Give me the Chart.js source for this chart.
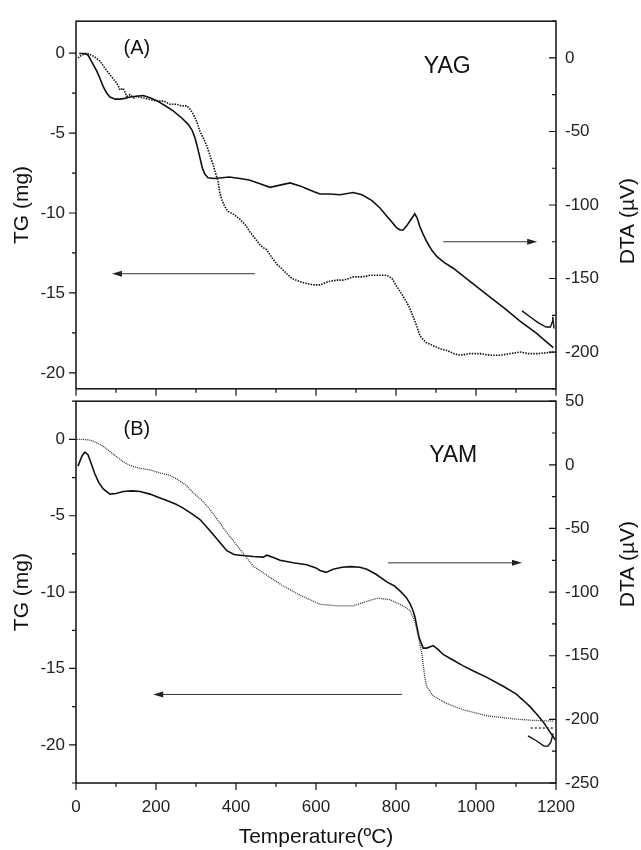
<!DOCTYPE html>
<html>
<head>
<meta charset="utf-8">
<script src="https://cdn.jsdelivr.net/npm/chart.js@4.4.1/dist/chart.umd.min.js"></script>
<style>
  html, body { margin: 0; padding: 0; background: #fff; }
  #wrap { position: relative; width: 641px; height: 850px; }
  #wrap canvas { position: absolute; left: 0; }
  #chartA { top: 0; }
  #chartB { top: 380px; }
</style>
</head>
<body>
<div id="wrap">
  <canvas id="chartA" width="641" height="410"></canvas>
  <canvas id="chartB" width="641" height="470"></canvas>
</div>
<script>
// ================= DATA =================
// (A) YAG - TG, mg (dotted)
const tgA_T = [5, 15, 27, 45, 60, 77, 93, 105, 110, 118, 127, 135, 145, 152, 168, 185, 202, 220, 235, 252, 265, 277, 285, 293, 302, 310, 320, 327, 335, 343, 350, 355, 360, 365, 372, 380, 395, 410, 425, 435, 448, 460, 470, 477, 482, 490, 502, 515, 527, 540, 560, 575, 593, 610, 630, 652, 670, 693, 715, 735, 755, 777, 790, 802, 815, 827, 835, 843, 852, 860, 875, 893, 910, 927, 945, 960, 985, 1010, 1035, 1060, 1085, 1110, 1130, 1152, 1175, 1195];
const tgA = [-0.3, -0.1, 0, -0.2, -0.5, -1.1, -1.6, -2.0, -2.3, -2.2, -2.7, -2.6, -2.8, -2.7, -2.8, -2.9, -3.0, -3.0, -3.2, -3.2, -3.3, -3.3, -3.5, -3.8, -4.3, -4.9, -5.4, -5.8, -6.4, -7.0, -7.6, -8.0, -8.8, -9.2, -9.6, -9.9, -10.1, -10.4, -10.8, -11.2, -11.6, -12.0, -12.2, -12.3, -12.5, -12.8, -13.2, -13.5, -13.8, -14.1, -14.3, -14.4, -14.5, -14.5, -14.3, -14.2, -14.2, -14.0, -14.0, -13.9, -13.9, -13.9, -14.1, -14.6, -15.1, -15.6, -16.0, -16.5, -17.1, -17.7, -18.1, -18.3, -18.5, -18.6, -18.8, -18.9, -18.8, -18.8, -18.9, -18.9, -18.8, -18.7, -18.8, -18.8, -18.75, -18.7];

// (A) YAG - DTA, µV (solid)
const dtaA_T = [8, 20, 30, 40, 52, 60, 68, 77, 85, 98, 110, 122, 135, 150, 168, 185, 202, 220, 243, 265, 280, 290, 297, 303, 310, 316, 322, 330, 345, 365, 383, 410, 433, 460, 485, 510, 535, 560, 577, 595, 610, 635, 660, 693, 715, 740, 760, 775, 785, 800, 810, 818, 827, 837, 847, 853, 860, 868, 877, 890, 902, 920, 943, 985, 1027, 1070, 1110, 1150, 1193];
const dtaA = [3, 3, 2, -3, -9, -14, -19.5, -24, -26.6, -28, -28, -27.5, -26.6, -26, -25.5, -27, -29, -32, -36, -41, -45, -49, -54, -60, -68, -75, -79, -81.5, -82, -81.5, -81, -82, -83, -85.5, -88, -86.5, -85, -87, -89, -91, -92.5, -92.5, -93, -91.5, -93, -97, -102, -107, -110, -115, -117, -117, -114, -110, -106, -109, -115, -120, -125, -131, -135, -139, -143, -152, -161, -170, -179, -187, -197];
// (A) short cooling trace at the end
const dtaA2_T = [1115, 1135, 1155, 1175, 1186, 1190, 1192, 1195];
const dtaA2 = [-172, -176, -180, -183, -183, -180, -176, -184];

// (B) YAM - TG, mg (dotted)
const tgB_T = [2, 20, 35, 50, 68, 85, 102, 120, 135, 160, 185, 210, 235, 252, 275, 293, 315, 335, 355, 377, 395, 410, 443, 477, 518, 560, 610, 652, 693, 727, 755, 785, 818, 835, 847, 855, 865, 872, 877, 893, 927, 968, 1027, 1093, 1143, 1195];
const tgB = [0, 0, -0.05, -0.2, -0.45, -0.8, -1.15, -1.5, -1.7, -1.9, -2.0, -2.2, -2.35, -2.6, -3.0, -3.5, -4.0, -4.6, -5.3, -6.1, -6.7, -7.2, -8.3, -8.9, -9.6, -10.2, -10.8, -10.9, -10.9, -10.6, -10.4, -10.5, -10.9, -11.2, -11.9, -12.8, -14.1, -15.6, -16.2, -16.8, -17.3, -17.7, -18.1, -18.3, -18.4, -18.45];
const tgB2_T = [1137, 1195];
const tgB2 = [-18.9, -18.9];

// (B) YAM - DTA, µV (solid)
const dtaB_T = [5, 15, 22, 30, 38, 47, 57, 68, 85, 100, 118, 140, 160, 185, 202, 227, 250, 268, 290, 310, 330, 352, 365, 377, 395, 410, 443, 468, 477, 495, 510, 543, 577, 600, 610, 625, 643, 665, 685, 710, 727, 750, 777, 795, 810, 825, 835, 842, 847, 852, 858, 868, 877, 893, 905, 918, 940, 968, 1000, 1027, 1068, 1100, 1118, 1135, 1152, 1168, 1185, 1198];
const dtaB = [-1, 7, 10, 8, 1, -7, -14, -19, -23, -22.5, -21, -20.5, -21, -23, -25, -28, -31, -34, -38.5, -43, -50, -58, -63, -67.5, -70.5, -71, -72, -72.5, -71, -73, -75, -77, -78.5, -81, -83, -84.5, -82, -80.5, -80, -80.5, -82, -86, -92, -95, -99, -104, -109, -114, -119, -127, -136, -144, -144, -142, -145, -149, -153, -158, -163, -167, -174, -180, -185, -190, -196, -202, -210, -216];
const dtaB2_T = [1130, 1152, 1170, 1180, 1187, 1193];
const dtaB2 = [-213, -217, -221, -221, -218, -211];

// ================= HELPERS =================
const FONT = "'Liberation Sans', Arial, Helvetica, sans-serif";
const majorStep = { x: 200, tg: 5, dta: 50 };
const pts = (T, V) => T.map((t, i) => ({ x: t, y: V[i] }));
const isMajor = (v, step) => Math.abs(v / step - Math.round(v / step)) < 1e-6;

// frame + inward/outward tick marks (major long, minor short)
const frameTicks = {
  id: 'frameTicks',
  afterDraw(chart) {
    const { ctx, chartArea: a, scales } = chart;
    ctx.save();
    ctx.strokeStyle = '#111';
    ctx.lineWidth = 1.5;
    ctx.strokeRect(a.left, a.top, a.right - a.left, a.bottom - a.top);
    ctx.lineWidth = 1.2;
    ctx.beginPath();
    Object.values(scales).forEach(s => {
      const step = majorStep[s.id];
      s.ticks.forEach(t => {
        const p = s.getPixelForValue(t.value);
        const len = isMajor(t.value, step) ? 7 : 4;
        if (s.id === 'x') { ctx.moveTo(p, a.bottom); ctx.lineTo(p, a.bottom + len); }
        else if (s.id === 'tg') { ctx.moveTo(a.left, p); ctx.lineTo(a.left - len, p); }
        else { ctx.moveTo(a.right, p); ctx.lineTo(a.right - len, p); }
      });
    });
    ctx.stroke();
    ctx.restore();
  }
};

// panel labels, arrows and right-hand axis title
const notes = {
  id: 'notes',
  afterDraw(chart, args, opts) {
    const { ctx, scales } = chart;
    const x = scales.x;
    ctx.save();
    ctx.fillStyle = '#111';
    ctx.textAlign = 'center';
    ctx.textBaseline = 'middle';
    (opts.texts || []).forEach(n => {
      ctx.font = n.size + 'px ' + FONT;
      ctx.fillText(n.text, x.getPixelForValue(n.x), scales[n.axis].getPixelForValue(n.y));
    });
    ctx.strokeStyle = '#333';
    ctx.fillStyle = '#222';
    ctx.lineWidth = 1;
    (opts.arrows || []).forEach(r => {
      const x1 = x.getPixelForValue(r.from), x2 = x.getPixelForValue(r.to);
      const y = scales[r.axis].getPixelForValue(r.y);
      const dir = Math.sign(x2 - x1);
      ctx.beginPath(); ctx.moveTo(x1, y); ctx.lineTo(x2 - dir * 6, y); ctx.stroke();
      ctx.beginPath();
      ctx.moveTo(x2, y); ctx.lineTo(x2 - dir * 10, y - 3); ctx.lineTo(x2 - dir * 10, y + 3);
      ctx.closePath(); ctx.fill();
    });
    if (opts.rightTitle) {
      const yc = scales.dta.getPixelForValue(opts.rightTitle.y);
      ctx.fillStyle = '#111';
      ctx.font = '21px ' + FONT;
      ctx.translate(chart.width - 13, yc);
      ctx.rotate(-Math.PI / 2);
      ctx.fillText('DTA (µV)', 0, 0);
    }
    ctx.restore();
  }
};

function makeChart(id, cfg) {
  const tickFont = { family: FONT, size: 17 };
  return new Chart(document.getElementById(id), {
    type: 'line',
    data: {
      datasets: [
        { data: pts(cfg.tg_T, cfg.tg), yAxisID: 'tg', borderColor: cfg.tgColor, borderWidth: cfg.tgWidth, borderDash: cfg.tgDash, pointRadius: 0 },
        { data: pts(cfg.tg2_T, cfg.tg2), yAxisID: 'tg', borderColor: '#222', borderWidth: 1.3, borderDash: [2, 2], pointRadius: 0 },
        { data: pts(cfg.dta_T, cfg.dta), yAxisID: 'dta', borderColor: '#111', borderWidth: 1.6, pointRadius: 0 },
        { data: pts(cfg.dta2_T, cfg.dta2), yAxisID: 'dta', borderColor: '#111', borderWidth: 1.4, pointRadius: 0 }
      ]
    },
    options: {
      responsive: false,
      animation: false,
      layout: { padding: { top: cfg.padTop, left: 0, right: 0, bottom: 0 } },
      plugins: {
        legend: { display: false },
        tooltip: { enabled: false },
        notes: cfg.notes
      },
      scales: {
        x: {
          type: 'linear', min: 0, max: 1200,
          afterFit: s => { s.height = cfg.xHeight; },
          grid: { display: false, drawTicks: false },
          border: { display: false },
          ticks: {
            stepSize: 100, autoSkip: false, includeBounds: false, maxRotation: 0,
            padding: 14, color: '#222', font: tickFont,
            callback: v => (cfg.xLabels && isMajor(v, 200)) ? v : ''
          },
          title: {
            display: cfg.xLabels, text: 'Temperature(ºC)', color: '#111',
            font: { family: FONT, size: 21 }, padding: { top: 0, bottom: 0 }
          }
        },
        tg: {
          type: 'linear', position: 'left', min: cfg.tgMin, max: cfg.tgMax,
          afterFit: s => { s.width = 76; },
          grid: { display: false, drawTicks: false },
          border: { display: false },
          ticks: {
            stepSize: 2.5, includeBounds: false, autoSkip: false,
            padding: 11, color: '#222', font: tickFont,
            callback: v => isMajor(v, 5) ? v : ''
          },
          title: {
            display: true, text: 'TG (mg)', color: '#111',
            font: { family: FONT, size: 21 }, padding: { top: 10, bottom: 0 }
          }
        },
        dta: {
          type: 'linear', position: 'right', min: cfg.dtaMin, max: cfg.dtaMax,
          afterFit: s => { s.width = 85; },
          grid: { display: false, drawTicks: false },
          border: { display: false },
          ticks: {
            stepSize: 25, includeBounds: false, autoSkip: false,
            padding: 9, color: '#222', font: tickFont,
            callback: v => isMajor(v, 50) ? v : ''
          }
        }
      }
    },
    plugins: [frameTicks, notes]
  });
}

// ================= (A) YAG =================
makeChart('chartA', {
  tg_T: tgA_T, tg: tgA, tg2_T: [], tg2: [],
  dta_T: dtaA_T, dta: dtaA, dta2_T: dtaA2_T, dta2: dtaA2,
  tgDash: [1.5, 1.2], tgColor: '#111', tgWidth: 1.6,
  tgMin: -21, tgMax: 2, dtaMin: -225, dtaMax: 25,
  padTop: 12, xHeight: 13, xLabels: false,
  notes: {
    texts: [
      { text: '(A)', x: 152, y: 0.3, axis: 'tg', size: 20 },
      { text: 'YAG', x: 928, y: -6, axis: 'dta', size: 23 }
    ],
    arrows: [
      { from: 447, to: 90, y: -13.8, axis: 'tg' },
      { from: 918, to: 1153, y: -125, axis: 'dta' }
    ],
    rightTitle: { y: -111 }
  }
});

// ================= (B) YAM =================
makeChart('chartB', {
  tg_T: tgB_T, tg: tgB, tg2_T: tgB2_T, tg2: tgB2,
  dta_T: dtaB_T, dta: dtaB, dta2_T: dtaB2_T, dta2: dtaB2,
  tgDash: [1, 1], tgColor: '#333', tgWidth: 1.3,
  tgMin: -22.5, tgMax: 2.5, dtaMin: -250, dtaMax: 50,
  padTop: 17, xHeight: 67, xLabels: true,
  notes: {
    texts: [
      { text: '(B)', x: 152, y: 0.65, axis: 'tg', size: 20 },
      { text: 'YAM', x: 943, y: 7, axis: 'dta', size: 23 }
    ],
    arrows: [
      { from: 815, to: 193, y: -16.7, axis: 'tg' },
      { from: 780, to: 1115, y: -77, axis: 'dta' }
    ],
    rightTitle: { y: -78 }
  }
});
</script>
</body>
</html>
